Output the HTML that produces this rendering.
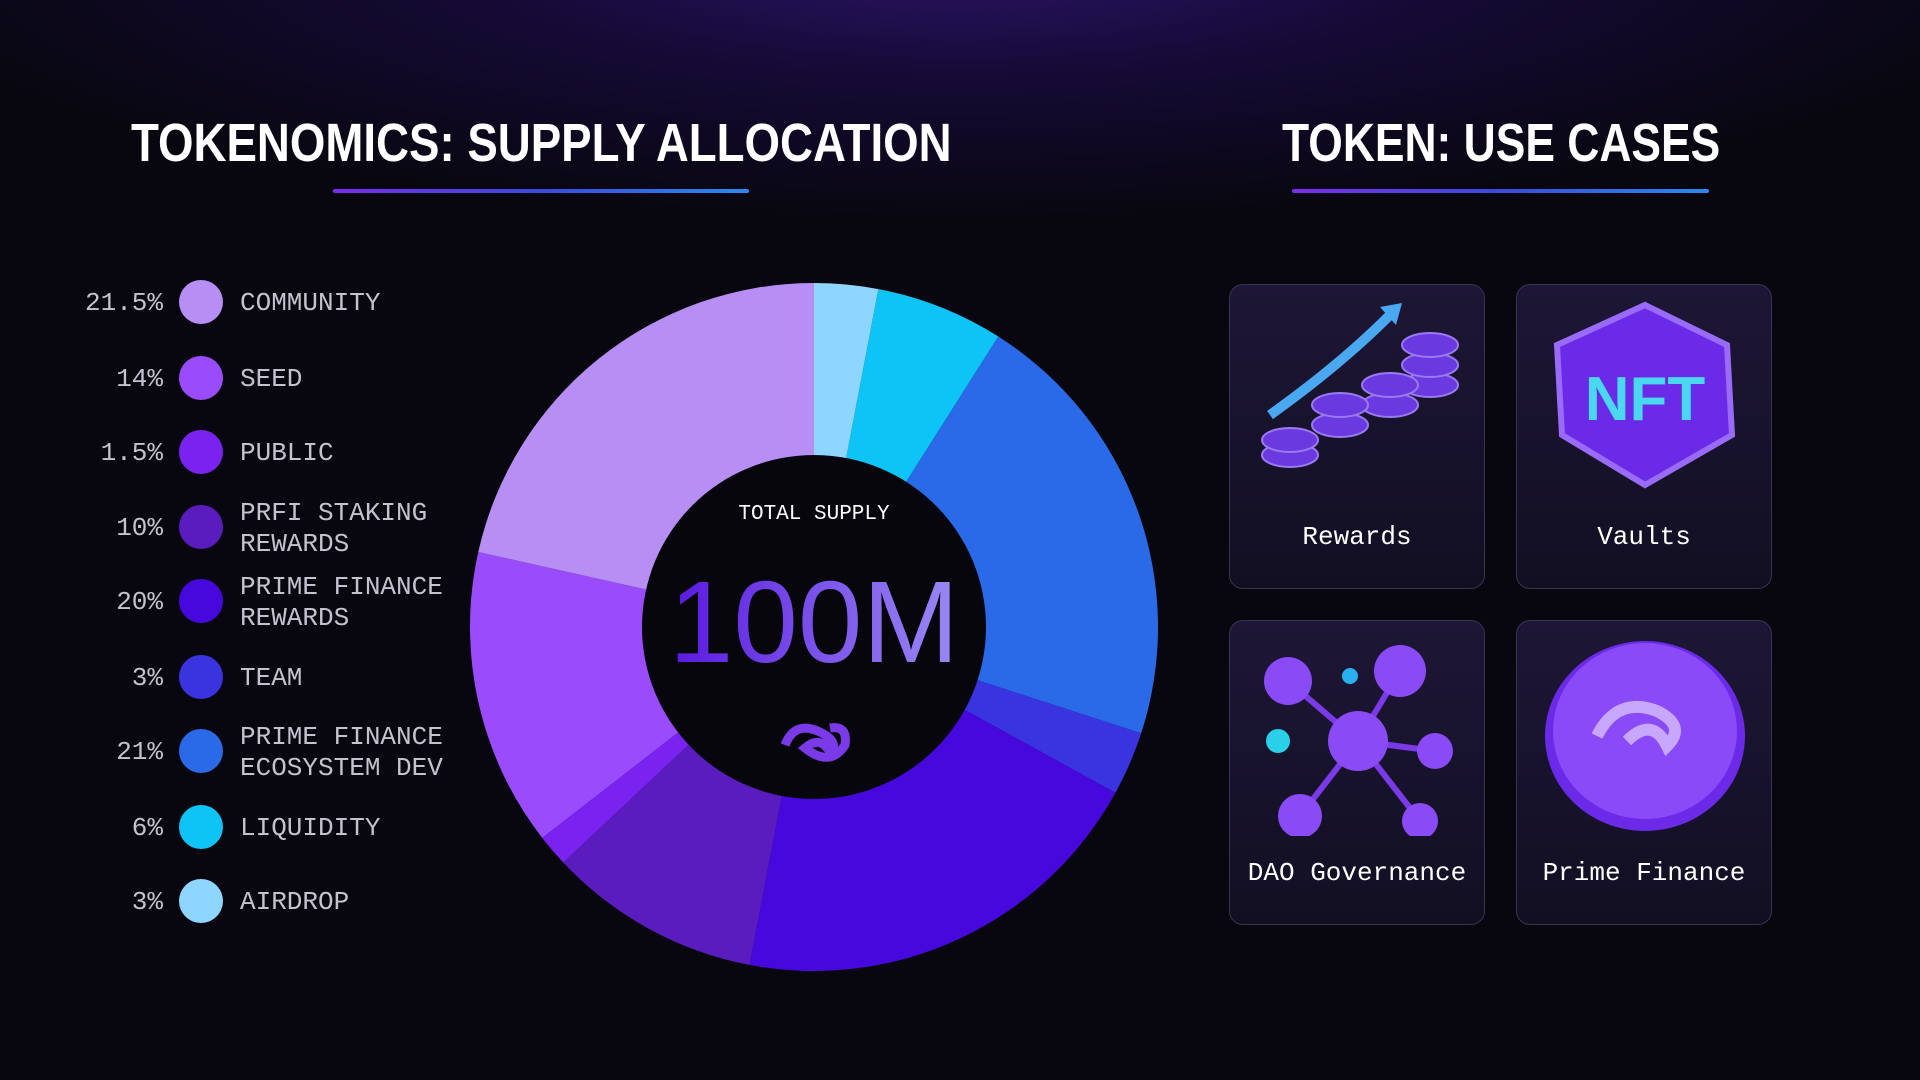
<!DOCTYPE html>
<html><head><meta charset="utf-8"><style>
html,body{margin:0;padding:0;width:1920px;height:1080px;overflow:hidden;background:#08070f;font-family:"Liberation Sans",sans-serif;}
#root{position:relative;width:1920px;height:1080px;background:radial-gradient(ellipse 1100px 260px at 960px -40px,#2a1466 0%,#150a35 45%,rgba(8,7,15,0) 100%),#08070f;}
.title{position:absolute;color:#fff;font-weight:bold;font-size:54px;top:112px;white-space:nowrap;transform-origin:0 0;}
.uline{position:absolute;height:4px;top:189px;border-radius:2px;background:linear-gradient(90deg,#7b2cf0,#3a4ae0,#2a8af0);}
.card{position:absolute;width:256px;height:305px;border:1.5px solid #3a3450;border-radius:14px;background:linear-gradient(180deg,#1d1636,#120f22);box-sizing:border-box;}
.card .lbl{position:absolute;left:0;right:0;bottom:36px;text-align:center;color:#fff;font-family:"Liberation Mono",monospace;font-size:26px;white-space:nowrap;}
</style></head><body>
<div id="root">
<div class="title" style="left:131px;transform:scaleX(0.845);">TOKENOMICS: SUPPLY ALLOCATION</div>
<div class="uline" style="left:333px;width:416px;"></div>
<div class="title" style="left:1282px;transform:scaleX(0.822);">TOKEN: USE CASES</div>
<div class="uline" style="left:1292px;width:417px;"></div>
<svg id="chart" width="1920" height="1080" style="position:absolute;left:0;top:0"></svg>

<div class="card" style="left:1229px;top:284px;">
<svg width="256" height="200" style="position:absolute;left:0;top:10px">
<path d="M40 120 Q110 70 160 20" stroke="#4aa8f0" stroke-width="10" fill="none"/><polygon points="150,12 172,8 166,30" fill="#4aa8f0"/>
<g fill="#6a3ae0" stroke="#9a7af0" stroke-width="2"><ellipse cx="200" cy="90" rx="28" ry="12"/><ellipse cx="200" cy="70" rx="28" ry="12"/><ellipse cx="200" cy="50" rx="28" ry="12"/><ellipse cx="160" cy="110" rx="28" ry="12"/><ellipse cx="160" cy="90" rx="28" ry="12"/><ellipse cx="110" cy="130" rx="28" ry="12"/><ellipse cx="110" cy="110" rx="28" ry="12"/><ellipse cx="60" cy="160" rx="28" ry="12"/><ellipse cx="60" cy="145" rx="28" ry="12"/></g></svg>
<div class="lbl">Rewards</div></div>
<div class="card" style="left:1516px;top:284px;">
<svg width="256" height="200" style="position:absolute;left:0;top:10px">
<polygon points="128,10 210,50 215,140 128,190 45,140 40,50" fill="#6a2ae8" stroke="#9a6af8" stroke-width="6"/>
<text x="128" y="125" text-anchor="middle" font-size="62" font-weight="bold" fill="#4ad8f0" font-family="Liberation Sans">NFT</text></svg>
<div class="lbl">Vaults</div></div>
<div class="card" style="left:1229px;top:620px;">
<svg width="256" height="210" style="position:absolute;left:0;top:5px">
<g stroke="#7a3ae8" stroke-width="6"><line x1="128" y1="115" x2="58" y2="55"/><line x1="128" y1="115" x2="170" y2="45"/><line x1="128" y1="115" x2="205" y2="125"/><line x1="128" y1="115" x2="70" y2="190"/><line x1="128" y1="115" x2="190" y2="195"/></g>
<g fill="#8a4af5"><circle cx="128" cy="115" r="30"/><circle cx="58" cy="55" r="24"/><circle cx="170" cy="45" r="26"/><circle cx="205" cy="125" r="18"/><circle cx="70" cy="190" r="22"/><circle cx="190" cy="195" r="18"/></g>
<circle cx="48" cy="115" r="12" fill="#2ad0e8"/><circle cx="120" cy="50" r="8" fill="#2ab0f0"/></svg>
<div class="lbl">DAO Governance</div></div>
<div class="card" style="left:1516px;top:620px;">
<svg width="256" height="210" style="position:absolute;left:0;top:5px">
<ellipse cx="128" cy="110" rx="100" ry="95" fill="#6a2ae8"/><ellipse cx="128" cy="105" rx="92" ry="88" fill="#8a4af8"/>
<path d="M80 110 Q100 70 140 85 Q170 100 150 120 Q135 90 110 115" stroke="#c8a8ff" stroke-width="12" fill="none"/></svg>
<div class="lbl">Prime Finance</div></div>
</div>
<script>
const categories=["AIRDROP","LIQUIDITY","PRIME FINANCE|ECOSYSTEM DEV","TEAM","PRIME FINANCE|REWARDS","PRFI STAKING|REWARDS","PUBLIC","SEED","COMMUNITY"];
const values=[3,6,21,3,20,10,1.5,14,21.5];
const valueLabels=["3%","6%","21%","3%","20%","10%","1.5%","14%","21.5%"];
const colors=["#8fd6ff","#0ec4f6","#2a6ae8","#3a34e0","#4608dc","#5a1cbe","#7a22f0","#9a4cfc","#b78ef4"];
const svg=document.getElementById('chart');const NS="http://www.w3.org/2000/svg";
const cx=814,cy=627,R=344,r=172;
const total=values.reduce((a,b)=>a+b,0);
function ang(v){return -Math.PI/2+v/total*2*Math.PI;}
function pt(a,rad){return [cx+rad*Math.cos(a),cy+rad*Math.sin(a)];}
let acc=0;
values.forEach((v,i)=>{const a0=ang(acc),a1=ang(acc+v);acc+=v;const lg=(a1-a0)>Math.PI?1:0;
const p0=pt(a0,R),p1=pt(a1,R);
const p=document.createElementNS(NS,'path');
p.setAttribute('d',`M${cx} ${cy} L${p0[0]} ${p0[1]} A${R} ${R} 0 ${lg} 1 ${p1[0]} ${p1[1]} Z`);
p.setAttribute('fill',colors[i]);


svg.appendChild(p);});
const hole=document.createElementNS(NS,'circle');hole.setAttribute('cx',cx);hole.setAttribute('cy',cy);hole.setAttribute('r',r);hole.setAttribute('fill','#07060d');


svg.appendChild(hole);
svg.insertAdjacentHTML('beforeend',`<defs><linearGradient id="g1" x1="0" x2="1"><stop offset="0" stop-color="#5a18e0"/><stop offset="1" stop-color="#9a8af4"/></linearGradient></defs>
<text x="${cx}" y="519" text-anchor="middle" fill="#fff" font-family="Liberation Mono,monospace" font-size="21">TOTAL SUPPLY</text>
<text x="${cx}" y="662" text-anchor="middle" fill="url(#g1)" font-family="Liberation Sans,sans-serif" font-size="116">100M</text>
<path d="M785 745 Q795 720 820 732 Q840 742 830 752 Q820 735 805 748 Q830 768 845 745 Q848 725 830 728" stroke="#7a3ae8" stroke-width="9" fill="none"/>`);
const rowsY=[302,378,452,527,601,677,751,827,901];
for(let k=0;k<categories.length;k++){const i=categories.length-1-k;const y=rowsY[k];
const g=document.createElementNS(NS,'g');


const c=document.createElementNS(NS,'circle');c.setAttribute('cx',201);c.setAttribute('cy',y);c.setAttribute('r',22);c.setAttribute('fill',colors[i]);g.appendChild(c);
const t=document.createElementNS(NS,'text');t.setAttribute('x',163);t.setAttribute('y',y+8);t.setAttribute('text-anchor','end');t.setAttribute('fill','#c4c2cc');t.setAttribute('font-family','Liberation Mono,monospace');t.setAttribute('font-size','26');t.textContent=valueLabels[i];g.appendChild(t);
const lines=categories[i].split('|');
lines.forEach((ln,j)=>{const tt=document.createElementNS(NS,'text');tt.setAttribute('x',240);tt.setAttribute('y',y+8+(lines.length>1?(j*31-15):0));tt.setAttribute('fill','#c4c2cc');tt.setAttribute('font-family','Liberation Mono,monospace');tt.setAttribute('font-size','26');tt.textContent=ln;g.appendChild(tt);});
svg.appendChild(g);}
</script>
</body></html>
